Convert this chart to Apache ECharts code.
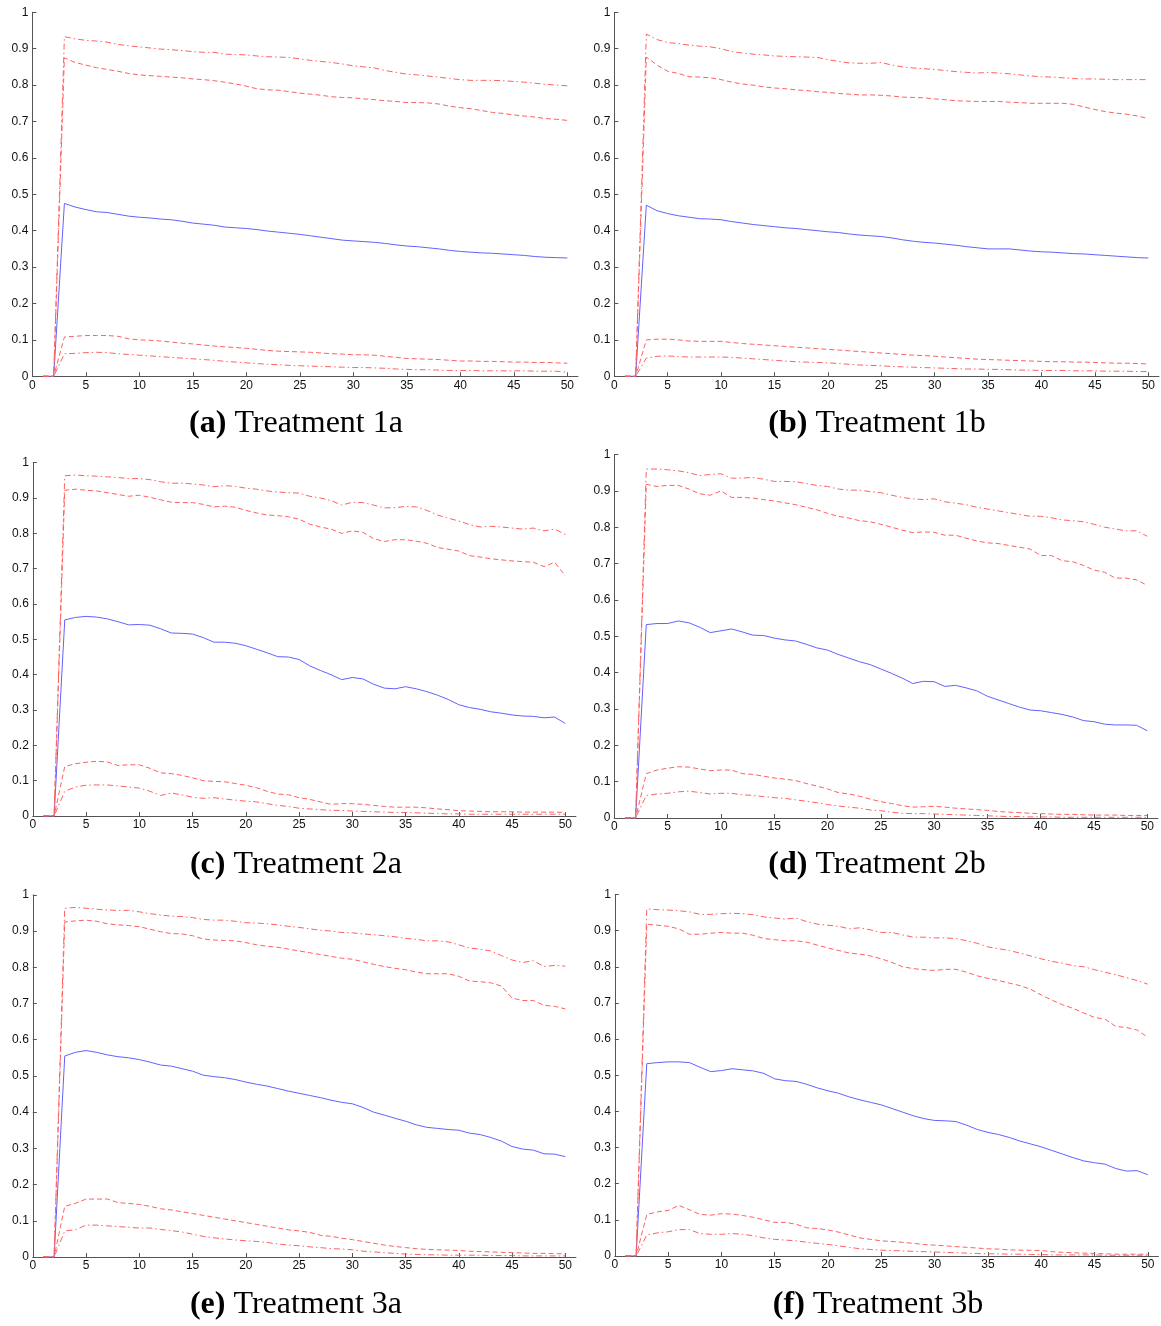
<!DOCTYPE html>
<html>
<head>
<meta charset="utf-8">
<script src="https://cdn.jsdelivr.net/npm/echarts@6/dist/echarts.min.js"></script>
<style>
html,body{margin:0;padding:0;background:#fff;}
#chart{width:1161px;height:1326px;}
</style>
</head>
<body>
<div id="chart"></div>
<script>
// ---------- DATA ----------
var xValues = [1,2,3,4,5,6,7,8,9,10,11,12,13,14,15,16,17,18,19,20,21,22,23,24,25,26,27,28,29,30,31,32,33,34,35,36,37,38,39,40,41,42,43,44,45,46,47,48,49,50];
var xTicks = [0,5,10,15,20,25,30,35,40,45,50];
var yTicks = [0,0.1,0.2,0.3,0.4,0.5,0.6,0.7,0.8,0.9,1];
var captionLetters = ['(a)','(b)','(c)','(d)','(e)','(f)'];
var captionNames = ['Treatment 1a','Treatment 1b','Treatment 2a','Treatment 2b','Treatment 3a','Treatment 3b'];

// Treatment 1a
var t1a_mean = [0,0,0.475,0.465,0.458,0.452,0.450,0.445,0.440,0.437,0.435,0.432,0.430,0.426,0.421,0.418,0.415,0.410,0.408,0.406,0.403,0.399,0.396,0.393,0.390,0.386,0.382,0.378,0.374,0.372,0.370,0.368,0.365,0.361,0.358,0.356,0.353,0.350,0.346,0.343,0.341,0.339,0.338,0.336,0.334,0.332,0.329,0.327,0.326,0.325];
var t1a_hiOuter = [0,0,0.933,0.927,0.923,0.921,0.918,0.912,0.908,0.905,0.902,0.899,0.897,0.895,0.892,0.890,0.890,0.885,0.884,0.883,0.880,0.878,0.877,0.876,0.872,0.868,0.865,0.862,0.858,0.853,0.850,0.847,0.840,0.835,0.830,0.828,0.825,0.822,0.818,0.815,0.813,0.813,0.813,0.812,0.810,0.808,0.805,0.802,0.800,0.798];
var t1a_hiInner = [0,0,0.875,0.862,0.855,0.848,0.843,0.838,0.832,0.828,0.826,0.824,0.822,0.820,0.817,0.815,0.812,0.808,0.803,0.797,0.790,0.787,0.786,0.782,0.778,0.775,0.772,0.768,0.766,0.765,0.762,0.760,0.757,0.755,0.752,0.752,0.751,0.748,0.742,0.738,0.735,0.730,0.725,0.722,0.718,0.715,0.712,0.708,0.706,0.703];
var t1a_loInner = [0,0,0.108,0.110,0.112,0.112,0.112,0.110,0.103,0.100,0.099,0.097,0.094,0.091,0.089,0.086,0.083,0.081,0.079,0.077,0.074,0.071,0.069,0.068,0.067,0.066,0.064,0.062,0.061,0.059,0.059,0.058,0.055,0.052,0.049,0.048,0.047,0.046,0.044,0.042,0.042,0.041,0.041,0.040,0.039,0.039,0.038,0.038,0.037,0.036];
var t1a_loOuter = [0,0,0.062,0.063,0.065,0.066,0.065,0.062,0.060,0.058,0.056,0.054,0.052,0.050,0.048,0.046,0.044,0.041,0.039,0.037,0.035,0.033,0.032,0.030,0.029,0.028,0.027,0.026,0.025,0.024,0.024,0.023,0.022,0.020,0.019,0.018,0.018,0.017,0.016,0.016,0.016,0.015,0.015,0.015,0.015,0.015,0.014,0.014,0.014,0.011];

// Treatment 1b
var t1b_mean = [0,0,0.470,0.455,0.447,0.441,0.437,0.433,0.432,0.430,0.425,0.421,0.417,0.414,0.411,0.408,0.406,0.403,0.400,0.397,0.395,0.391,0.388,0.386,0.384,0.380,0.375,0.371,0.368,0.366,0.363,0.360,0.356,0.353,0.350,0.350,0.350,0.347,0.344,0.342,0.341,0.339,0.337,0.336,0.334,0.332,0.330,0.328,0.326,0.325];
var t1b_hiOuter = [0,0,0.940,0.925,0.917,0.914,0.910,0.907,0.905,0.900,0.892,0.888,0.885,0.883,0.880,0.879,0.878,0.877,0.876,0.870,0.865,0.861,0.860,0.860,0.862,0.855,0.850,0.847,0.845,0.843,0.840,0.837,0.835,0.833,0.835,0.833,0.831,0.828,0.825,0.823,0.822,0.820,0.818,0.817,0.817,0.816,0.815,0.815,0.815,0.815];
var t1b_hiInner = [0,0,0.877,0.855,0.838,0.832,0.823,0.822,0.820,0.815,0.808,0.803,0.800,0.795,0.792,0.790,0.787,0.785,0.782,0.780,0.777,0.775,0.773,0.773,0.772,0.770,0.767,0.766,0.765,0.762,0.760,0.757,0.756,0.755,0.755,0.755,0.753,0.752,0.750,0.750,0.750,0.750,0.747,0.740,0.733,0.727,0.723,0.720,0.715,0.708];
var t1b_loInner = [0,0,0.100,0.102,0.102,0.100,0.097,0.096,0.096,0.096,0.093,0.090,0.088,0.086,0.084,0.082,0.080,0.078,0.076,0.074,0.072,0.070,0.068,0.066,0.064,0.062,0.060,0.058,0.057,0.055,0.053,0.051,0.049,0.047,0.046,0.045,0.044,0.043,0.042,0.041,0.040,0.040,0.039,0.039,0.038,0.037,0.036,0.036,0.035,0.034];
var t1b_loOuter = [0,0,0.050,0.055,0.056,0.054,0.053,0.053,0.053,0.053,0.052,0.050,0.048,0.046,0.044,0.042,0.040,0.039,0.038,0.037,0.035,0.033,0.031,0.030,0.029,0.027,0.026,0.025,0.024,0.023,0.022,0.021,0.020,0.020,0.019,0.019,0.018,0.017,0.017,0.016,0.016,0.016,0.015,0.015,0.015,0.014,0.014,0.014,0.013,0.013];

// Treatment 2a
var t2a_mean = [0,0,0.555,0.562,0.565,0.563,0.558,0.550,0.541,0.542,0.540,0.530,0.518,0.517,0.515,0.505,0.492,0.492,0.489,0.482,0.472,0.462,0.451,0.450,0.443,0.425,0.412,0.400,0.386,0.392,0.388,0.373,0.362,0.360,0.366,0.360,0.352,0.342,0.330,0.315,0.307,0.302,0.295,0.291,0.286,0.283,0.282,0.278,0.280,0.262];
var t2a_hiOuter = [0,0,0.963,0.965,0.963,0.962,0.960,0.958,0.955,0.955,0.952,0.946,0.942,0.942,0.940,0.937,0.932,0.935,0.933,0.928,0.925,0.920,0.917,0.915,0.914,0.905,0.900,0.893,0.880,0.888,0.887,0.880,0.872,0.873,0.876,0.875,0.865,0.852,0.843,0.835,0.825,0.818,0.820,0.818,0.815,0.812,0.815,0.807,0.812,0.797];
var t2a_hiInner = [0,0,0.922,0.925,0.922,0.920,0.915,0.910,0.905,0.908,0.902,0.895,0.888,0.887,0.887,0.882,0.875,0.877,0.874,0.865,0.858,0.852,0.850,0.847,0.840,0.826,0.818,0.812,0.800,0.807,0.803,0.785,0.777,0.782,0.782,0.778,0.772,0.760,0.755,0.750,0.737,0.733,0.728,0.725,0.722,0.720,0.718,0.706,0.718,0.680];
var t2a_loInner = [0,0,0.140,0.148,0.152,0.155,0.153,0.143,0.145,0.145,0.135,0.122,0.120,0.115,0.108,0.100,0.098,0.097,0.092,0.087,0.080,0.070,0.062,0.060,0.052,0.047,0.040,0.033,0.035,0.035,0.033,0.030,0.027,0.025,0.025,0.025,0.023,0.020,0.018,0.015,0.014,0.013,0.012,0.012,0.012,0.011,0.011,0.011,0.011,0.010];
var t2a_loOuter = [0,0,0.070,0.082,0.087,0.088,0.088,0.085,0.082,0.079,0.070,0.058,0.065,0.060,0.053,0.050,0.052,0.048,0.045,0.042,0.040,0.035,0.030,0.027,0.022,0.020,0.018,0.016,0.016,0.014,0.013,0.012,0.011,0.010,0.010,0.009,0.008,0.007,0.006,0.006,0.005,0.005,0.005,0.005,0.005,0.005,0.005,0.005,0.005,0.005];

// Treatment 2b
var t2b_mean = [0,0,0.532,0.535,0.535,0.542,0.537,0.525,0.510,0.515,0.520,0.512,0.503,0.502,0.495,0.490,0.487,0.478,0.468,0.462,0.450,0.440,0.430,0.422,0.410,0.398,0.385,0.370,0.376,0.375,0.362,0.365,0.358,0.350,0.335,0.325,0.315,0.305,0.297,0.295,0.290,0.285,0.278,0.268,0.265,0.258,0.256,0.256,0.255,0.240];
var t2b_hiOuter = [0,0,0.960,0.960,0.958,0.955,0.950,0.942,0.945,0.947,0.935,0.935,0.937,0.932,0.926,0.926,0.925,0.920,0.915,0.912,0.905,0.902,0.902,0.898,0.895,0.888,0.882,0.878,0.876,0.878,0.870,0.866,0.862,0.855,0.850,0.845,0.840,0.835,0.830,0.830,0.826,0.820,0.818,0.815,0.808,0.800,0.795,0.790,0.790,0.775];
var t2b_hiInner = [0,0,0.918,0.912,0.915,0.915,0.905,0.892,0.888,0.900,0.882,0.882,0.880,0.876,0.872,0.867,0.862,0.855,0.848,0.838,0.830,0.825,0.818,0.815,0.808,0.800,0.792,0.785,0.787,0.786,0.778,0.778,0.770,0.762,0.757,0.755,0.750,0.745,0.740,0.722,0.722,0.708,0.705,0.695,0.682,0.676,0.660,0.660,0.655,0.640];
var t2b_loInner = [0,0,0.122,0.132,0.137,0.141,0.140,0.135,0.130,0.132,0.132,0.122,0.120,0.115,0.110,0.107,0.103,0.095,0.088,0.080,0.070,0.066,0.060,0.052,0.045,0.040,0.034,0.030,0.031,0.032,0.030,0.027,0.025,0.023,0.021,0.018,0.016,0.015,0.013,0.012,0.011,0.010,0.010,0.009,0.008,0.008,0.008,0.007,0.007,0.007];
var t2b_loOuter = [0,0,0.062,0.066,0.068,0.072,0.074,0.070,0.066,0.068,0.068,0.064,0.062,0.059,0.056,0.054,0.050,0.046,0.042,0.037,0.033,0.030,0.027,0.022,0.020,0.016,0.013,0.012,0.012,0.011,0.010,0.009,0.008,0.007,0.006,0.005,0.004,0.004,0.003,0.003,0.003,0.002,0.002,0.002,0.002,0.002,0.002,0.002,0.002,0.002];

// Treatment 3a
var t3a_mean = [0,0,0.555,0.565,0.570,0.565,0.558,0.553,0.550,0.545,0.538,0.530,0.527,0.520,0.513,0.502,0.498,0.495,0.490,0.483,0.477,0.472,0.465,0.458,0.452,0.446,0.440,0.433,0.427,0.423,0.413,0.400,0.392,0.383,0.375,0.365,0.358,0.355,0.352,0.350,0.342,0.338,0.330,0.320,0.305,0.298,0.295,0.285,0.284,0.277];
var t3a_hiOuter = [0,0,0.963,0.965,0.963,0.960,0.958,0.957,0.957,0.953,0.948,0.944,0.941,0.940,0.937,0.932,0.930,0.930,0.927,0.923,0.922,0.920,0.917,0.913,0.910,0.906,0.902,0.900,0.896,0.895,0.892,0.890,0.887,0.884,0.880,0.877,0.873,0.873,0.870,0.862,0.853,0.850,0.845,0.832,0.820,0.813,0.818,0.802,0.805,0.803];
var t3a_hiInner = [0,0,0.925,0.928,0.930,0.927,0.920,0.917,0.915,0.912,0.905,0.898,0.893,0.892,0.887,0.878,0.875,0.874,0.873,0.868,0.862,0.858,0.855,0.850,0.845,0.840,0.835,0.830,0.825,0.822,0.815,0.808,0.802,0.797,0.793,0.787,0.782,0.782,0.782,0.775,0.762,0.760,0.757,0.748,0.715,0.708,0.708,0.695,0.692,0.685];
var t3a_loInner = [0,0,0.140,0.148,0.160,0.160,0.160,0.150,0.148,0.145,0.140,0.133,0.130,0.125,0.120,0.115,0.110,0.105,0.100,0.095,0.090,0.085,0.080,0.075,0.072,0.068,0.060,0.057,0.052,0.048,0.043,0.038,0.033,0.029,0.026,0.023,0.021,0.020,0.019,0.018,0.016,0.015,0.014,0.013,0.012,0.011,0.010,0.010,0.009,0.009];
var t3a_loOuter = [0,0,0.072,0.075,0.088,0.088,0.086,0.084,0.082,0.080,0.080,0.076,0.073,0.069,0.063,0.057,0.053,0.050,0.047,0.045,0.043,0.040,0.036,0.033,0.031,0.028,0.026,0.023,0.022,0.020,0.016,0.014,0.012,0.010,0.008,0.007,0.006,0.006,0.005,0.005,0.005,0.005,0.004,0.004,0.004,0.003,0.003,0.003,0.003,0.003];

// Treatment 3b
var t3b_mean = [0,0,0.532,0.535,0.537,0.537,0.535,0.522,0.510,0.513,0.518,0.515,0.512,0.505,0.490,0.485,0.483,0.475,0.465,0.457,0.450,0.440,0.432,0.425,0.418,0.408,0.398,0.388,0.380,0.375,0.374,0.372,0.362,0.350,0.342,0.336,0.328,0.318,0.310,0.302,0.292,0.282,0.272,0.263,0.258,0.254,0.242,0.235,0.236,0.225];
var t3b_hiOuter = [0,0,0.960,0.958,0.957,0.955,0.952,0.945,0.945,0.947,0.948,0.947,0.944,0.938,0.935,0.932,0.935,0.925,0.918,0.915,0.912,0.905,0.908,0.902,0.895,0.895,0.888,0.882,0.882,0.880,0.880,0.878,0.872,0.865,0.855,0.850,0.845,0.838,0.830,0.822,0.815,0.810,0.803,0.800,0.792,0.785,0.778,0.770,0.762,0.752];
var t3b_hiInner = [0,0,0.918,0.915,0.912,0.905,0.890,0.890,0.893,0.895,0.893,0.893,0.887,0.878,0.875,0.872,0.872,0.868,0.860,0.852,0.845,0.838,0.835,0.830,0.822,0.812,0.800,0.795,0.792,0.790,0.793,0.793,0.785,0.775,0.768,0.762,0.755,0.748,0.738,0.722,0.708,0.695,0.685,0.672,0.660,0.655,0.635,0.632,0.625,0.605];
var t3b_loInner = [0,0,0.115,0.122,0.126,0.140,0.128,0.115,0.113,0.117,0.116,0.112,0.107,0.100,0.093,0.093,0.088,0.078,0.076,0.072,0.066,0.058,0.050,0.046,0.042,0.040,0.038,0.035,0.032,0.030,0.028,0.026,0.024,0.022,0.020,0.019,0.017,0.016,0.016,0.015,0.012,0.010,0.009,0.008,0.007,0.006,0.005,0.005,0.005,0.005];
var t3b_loOuter = [0,0,0.058,0.064,0.067,0.073,0.073,0.062,0.060,0.060,0.062,0.060,0.056,0.050,0.046,0.044,0.042,0.038,0.035,0.032,0.028,0.024,0.020,0.018,0.016,0.015,0.014,0.013,0.012,0.011,0.010,0.009,0.008,0.007,0.006,0.006,0.005,0.005,0.004,0.004,0.003,0.003,0.003,0.003,0.003,0.002,0.002,0.002,0.002,0.002];

var panelSeries = [
  [t1a_mean, t1a_hiOuter, t1a_hiInner, t1a_loInner, t1a_loOuter],
  [t1b_mean, t1b_hiOuter, t1b_hiInner, t1b_loInner, t1b_loOuter],
  [t2a_mean, t2a_hiOuter, t2a_hiInner, t2a_loInner, t2a_loOuter],
  [t2b_mean, t2b_hiOuter, t2b_hiInner, t2b_loInner, t2b_loOuter],
  [t3a_mean, t3a_hiOuter, t3a_hiInner, t3a_loInner, t3a_loOuter],
  [t3b_mean, t3b_hiOuter, t3b_hiInner, t3b_loInner, t3b_loOuter]
];

// ---------- LAYOUT ----------
var X_MAX = 51;
var panels = [
  {left: 32.3,  unit: 10.70, top: 12.3,  bottom: 376.3, cx: 296, cy: 424},
  {left: 614.3, unit: 10.68, top: 12.3,  bottom: 376.3, cx: 877, cy: 424},
  {left: 32.8,  unit: 10.65, top: 462.7, bottom: 816.0, cx: 296, cy: 865},
  {left: 614.3, unit: 10.66, top: 454.5, bottom: 818.0, cx: 877, cy: 865},
  {left: 32.8,  unit: 10.65, top: 894.8, bottom: 1257.0, cx: 296, cy: 1305},
  {left: 614.8, unit: 10.66, top: 894.5, bottom: 1256.0, cx: 878, cy: 1305}
];

var RED = '#ff6060';
var BLUE = '#6262ff';
var styles = [
  {color: BLUE, type: 'solid'},
  {color: RED, type: [6, 3, 1.5, 3]},
  {color: RED, type: [5, 3]},
  {color: RED, type: [5, 3]},
  {color: RED, type: [6, 3, 1.5, 3]}
];

var grids = [], xAxes = [], yAxes = [], series = [], graphics = [];
var axisColor = '#555';
var labelFont = {fontFamily: 'Liberation Sans, Arial, sans-serif', fontSize: 12, color: '#111'};

panels.forEach(function (p, i) {
  grids.push({
    left: p.left, top: p.top,
    width: p.unit * X_MAX, height: p.bottom - p.top,
    containLabel: false, outerBoundsMode: 'none'
  });
  xAxes.push({
    type: 'value', gridIndex: i, min: 0, max: X_MAX, interval: 5,
    axisLine: {show: true, lineStyle: {color: axisColor, width: 1}},
    axisTick: {show: true, inside: true, length: 4, customValues: xTicks, lineStyle: {color: axisColor}},
    axisLabel: Object.assign({show: true, margin: 3, customValues: xTicks}, labelFont),
    splitLine: {show: false}
  });
  yAxes.push({
    type: 'value', gridIndex: i, min: 0, max: 1, interval: 0.1,
    axisLine: {show: true, lineStyle: {color: axisColor, width: 1}},
    axisTick: {show: true, inside: true, length: 4, customValues: yTicks, lineStyle: {color: axisColor}},
    axisLabel: Object.assign({show: true, margin: 4, customValues: yTicks,
      formatter: function (v) { return String(Math.round(v * 10) / 10); }}, labelFont),
    splitLine: {show: false}
  });
  panelSeries[i].forEach(function (arr, k) {
    series.push({
      type: 'line', xAxisIndex: i, yAxisIndex: i,
      data: arr.map(function (v, j) { return [xValues[j], v]; }),
      showSymbol: false, symbol: 'none', silent: true,
      lineStyle: {color: styles[k].color, width: 1, type: styles[k].type},
      z: k === 0 ? 2 : 3
    });
  });
  graphics.push({
    type: 'text', x: p.cx, y: p.cy,
    style: {
      text: '{b|' + captionLetters[i] + '} ' + captionNames[i],
      align: 'center', verticalAlign: 'middle',
      fontFamily: 'Liberation Serif, serif', fontSize: 32, fill: '#000',
      rich: {b: {fontWeight: 'bold', fontFamily: 'Liberation Serif, serif', fontSize: 32}}
    }
  });
});

var chart = echarts.init(document.getElementById('chart'), null, {renderer: 'canvas'});
chart.setOption({
  animation: false,
  backgroundColor: '#fff',
  grid: grids, xAxis: xAxes, yAxis: yAxes, series: series,
  graphic: graphics
});
</script>
</body>
</html>
